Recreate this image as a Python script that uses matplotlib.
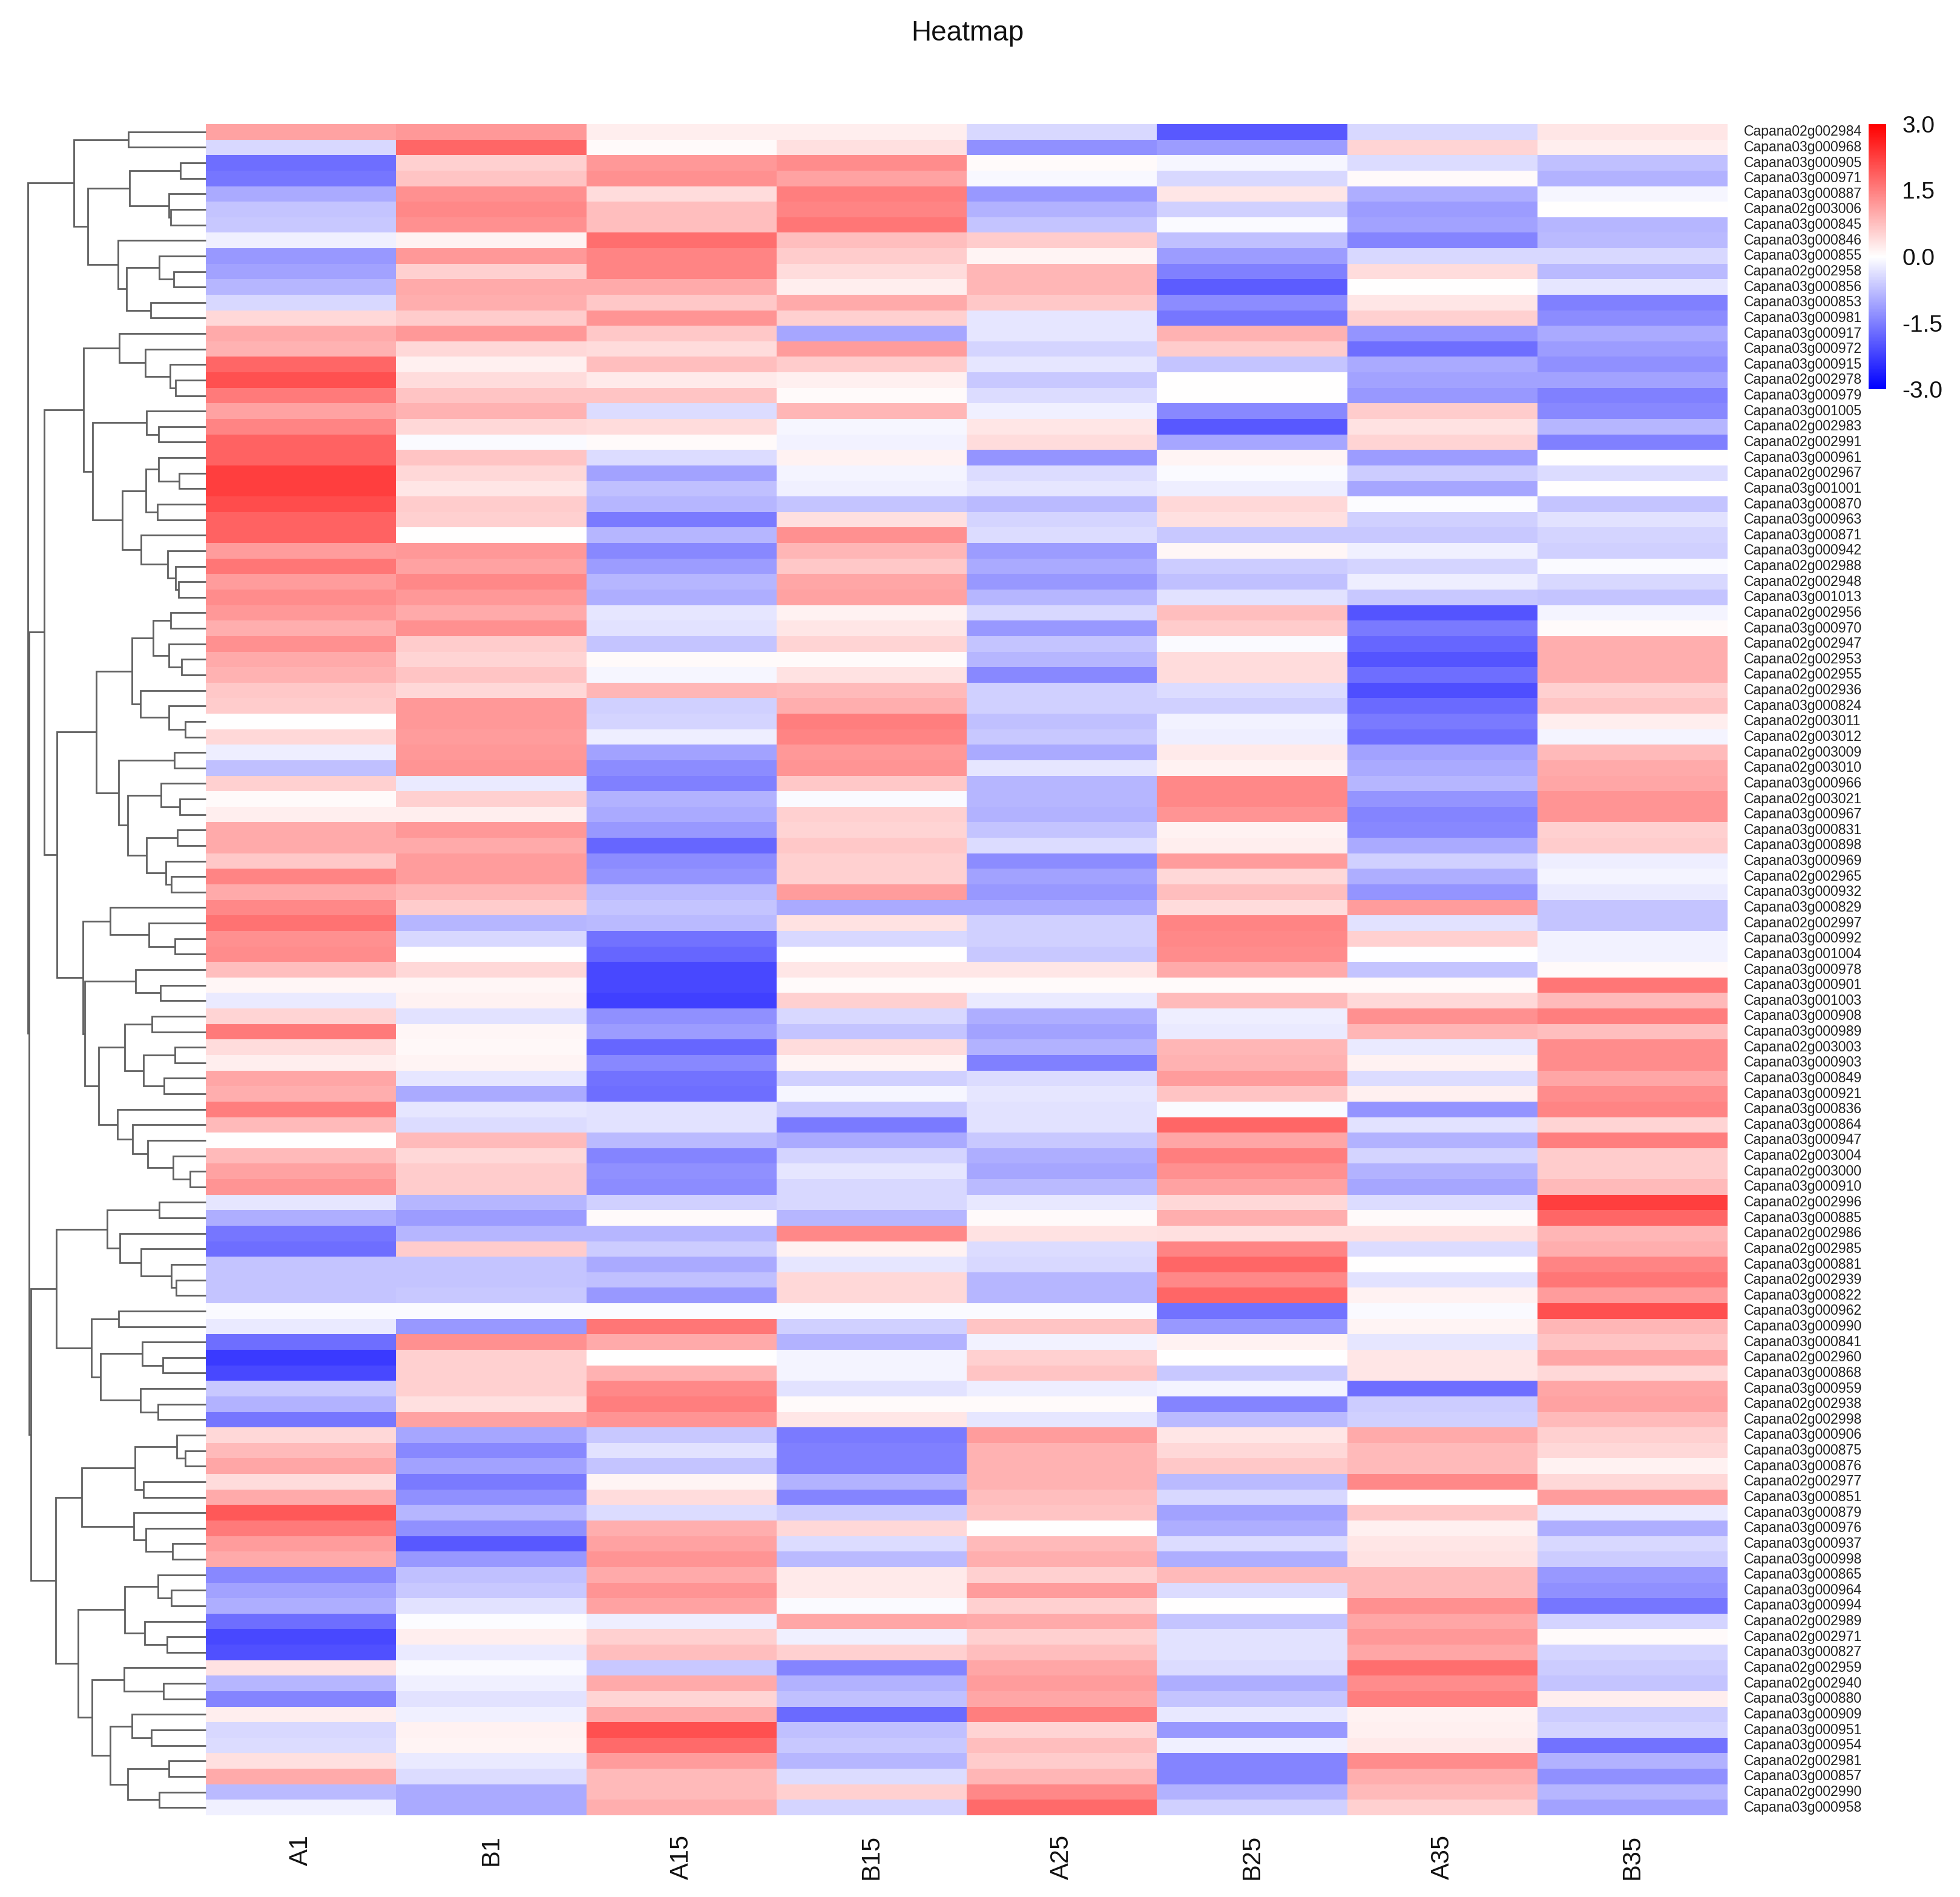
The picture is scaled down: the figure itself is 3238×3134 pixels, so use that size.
import matplotlib
matplotlib.use("Agg")
import matplotlib.pyplot as plt
import numpy as np

plt.rcParams['font.family'] = ['Liberation Sans', 'DejaVu Sans']

W_PX, H_PX = 3238, 3134

samples = ["A1", "B1", "A15", "B15", "A25", "B25", "A35", "B35"]

genes = """02g002984 03g000968 03g000905 03g000971 03g000887 02g003006 03g000845 03g000846 03g000855 02g002958
03g000856 03g000853 03g000981 03g000917 03g000972 03g000915 02g002978 03g000979 03g001005 02g002983
02g002991 03g000961 02g002967 03g001001 03g000870 03g000963 03g000871 03g000942 02g002988 02g002948
03g001013 02g002956 03g000970 02g002947 02g002953 02g002955 02g002936 03g000824 02g003011 02g003012
02g003009 02g003010 03g000966 02g003021 03g000967 03g000831 03g000898 03g000969 02g002965 03g000932
03g000829 02g002997 03g000992 03g001004 03g000978 03g000901 03g001003 03g000908 03g000989 02g003003
03g000903 03g000849 03g000921 03g000836 03g000864 03g000947 02g003004 02g003000 03g000910 02g002996
03g000885 02g002986 02g002985 03g000881 02g002939 03g000822 03g000962 03g000990 03g000841 02g002960
03g000868 03g000959 02g002938 02g002998 03g000906 03g000875 03g000876 02g002977 03g000851 03g000879
03g000976 03g000937 03g000998 03g000865 03g000964 03g000994 02g002989 02g002971 03g000827 02g002959
02g002940 03g000880 03g000909 03g000951 03g000954 02g002981 03g000857 02g002990 03g000958""".split()
gene_labels = ["Capana" + g for g in genes]

A1 = [1.1,-.45,-1.7,-1.6,-1.0,-.7,-.65,-.17,-1.2,-1.1,-.85,-.45,.45,1.0,.9,1.8,2.05,1.55,1.1,1.45,1.85,1.85,2.25,2.25,2.1,1.85,1.85,
      1.15,1.6,1.15,1.35,1.2,.95,1.3,1.0,.9,.65,.6,.02,.45,-.2,-.75,.55,.05,.2,1.0,1.0,.65,1.45,1.0,1.4,1.65,1.3,1.35,.75,
      .1,-.25,.5,1.55,.4,.2,1.05,.95,1.5,.8,0,.8,1.1,1.25,-.3,-.95,-1.6,-1.7,-.7,-.7,-.7,-.05,-.25,-1.7,-2.3,-2.15,-.65,-.9,-1.6,
      .45,.8,1.05,.4,1.0,1.95,1.55,1.15,1.0,-1.4,-1.1,-.95,-1.7,-2.15,-2.05,.35,-.85,-1.45,.2,-.45,-.4,.37,1.0,-.8,-.17]
B1 = [1.2,1.8,.55,.7,1.3,1.4,1.3,.15,1.2,.55,1.0,.95,.6,1.2,.45,.17,.4,.7,.9,.45,-.05,.7,.45,.3,.6,.55,0,
      1.2,1.1,1.4,1.2,1.0,1.3,.6,.5,.7,.45,1.2,1.2,1.15,1.2,1.25,-.25,.55,.2,1.2,1.0,1.15,1.15,.85,.6,-.85,-.45,0,.45,
      .1,.15,-.35,.1,.08,.12,-.3,-1.0,-.3,-.4,.8,.45,.6,.6,-.85,-1.15,-.85,.6,-.7,-.7,-.65,-.05,-1.2,1.3,.55,.55,.55,.37,1.1,
      -1.05,-1.4,-1.1,-1.55,-1.3,-.85,-1.3,-1.95,-1.2,-.75,-.65,-.35,-.03,.2,-.25,-.05,-.17,-.35,-.17,.15,.12,-.25,-.4,-1.0,-1.0]
A15 = [.2,.05,1.2,1.3,.4,.75,.75,1.7,1.45,1.45,1.0,.65,1.25,.65,.4,.75,.25,.7,-.4,.4,.05,-.4,-1.1,-.75,-.85,-1.55,-.85,
       -1.4,-1.15,-.85,-.95,-.3,-.35,-.7,.05,-.1,.85,-.55,-.5,-.2,-1.1,-1.35,-1.5,-.9,-1.0,-1.2,-1.8,-1.35,-1.25,-.8,-.7,-.8,-1.65,-1.8,-2.15,
       -2.15,-2.25,-1.3,-1.15,-1.8,-1.4,-1.65,-1.7,-.35,-.35,-.8,-1.45,-1.3,-1.35,-.55,.07,-.85,-.6,-1.0,-.75,-1.2,-.05,1.6,1.0,0,.9,1.4,1.5,1.25,
       -.65,-.35,-.7,.12,.4,-.4,.95,1.1,1.25,1.0,1.25,1.1,-.2,.55,.75,-.65,1.0,.5,1.0,2.05,1.75,1.15,.8,.8,.95]
B15 = [.2,.37,1.35,1.1,1.5,1.45,1.6,.75,.6,.4,.2,1.0,.55,-1.05,1.15,.6,.17,.05,.85,-.1,-.15,.15,-.12,-.17,-.7,.37,1.3,
       .85,.65,1.05,1.1,.15,.3,.5,.06,.35,.8,.95,1.5,1.45,1.2,1.25,.65,-.05,.55,.5,.65,.55,.55,1.15,-1.0,.35,-.45,0,.3,
       .05,.55,-.45,-.7,.4,.12,-.55,-.1,-.65,-1.55,-1.0,-.5,-.3,-.45,-.45,-.85,1.4,.15,-.3,.45,.45,-.05,-.55,-.9,-.13,-.13,-.35,.07,.3,
       -1.55,-1.5,-1.5,-.9,-1.45,-.6,.45,-.4,-.8,.25,.25,-.07,1.05,-.17,.55,-1.45,-.9,-.75,-1.75,-.75,-.65,-.85,-.4,.55,-.5]
A25 = [-.45,-1.3,.07,-.08,-1.2,-.9,-.7,.6,.13,.85,.85,.65,-.3,-.3,-.5,-.3,-.65,-.4,-.17,.3,.4,-1.25,-.4,-.3,-.8,-.5,-.4,
       -1.15,-1.0,-1.2,-.85,-.45,-1.2,-.7,-.85,-1.4,-.55,-.55,-.75,-.65,-1.0,-.3,-.85,-.85,-.9,-.7,-.4,-1.35,-1.1,-1.2,-1.0,-.55,-.55,-.65,.3,
       .05,-.25,-.95,-1.1,-.9,-1.5,-.4,-.3,-.35,-.35,-.65,-.95,-1.05,-.8,-.27,.07,.35,-.4,-.45,-.85,-.85,-.05,.7,-.15,.55,.7,-.2,.05,-.3,
       1.15,.9,.9,.9,.75,.7,0,.8,.95,.55,1.15,.55,1.0,.55,.75,1.05,1.15,1.05,1.5,.5,.75,.6,.85,1.4,1.75]
B25 = [-1.95,-1.15,-.1,-.45,.3,-.55,-.07,-.75,-1.15,-1.5,-1.9,-1.35,-1.6,.9,.6,-.7,0,0,-1.4,-1.95,-1.05,.12,-.05,-.2,.45,.37,-.65,
       .1,-.6,-.75,-.35,.75,.6,-.05,.4,.4,-.4,-.55,-.15,-.2,.25,.15,1.4,1.4,1.25,.15,.2,1.15,.45,.75,.4,1.45,1.4,1.35,1.0,
       .05,.8,-.2,-.25,.85,.9,1.15,.7,-.05,1.8,1.05,1.5,1.3,1.1,.45,.95,.37,1.45,1.8,1.4,1.8,-1.65,-1.2,.15,0,-.65,-.13,-1.45,-.8,
       .3,.45,.65,-.8,-.45,-1.1,-.95,-.4,-.95,.8,-.4,0,-.7,-.35,-.33,-.4,-.95,-.7,-.27,-1.2,-.17,-1.45,-1.45,-.9,-.55]
A35 = [-.45,.5,-.4,.05,-.95,-1.15,-1.1,-1.45,-.45,.4,0,.3,.55,-1.25,-1.7,-1.0,-1.1,-1.2,.6,.35,.5,-1.15,-.6,-1.05,-.03,-.55,-.65,
       -.17,-.5,-.2,-.65,-2.0,-1.55,-1.8,-2.0,-1.7,-2.08,-1.75,-1.55,-1.7,-1.1,-1.0,-.85,-1.25,-1.45,-1.4,-1.0,-.55,-.95,-1.25,1.15,-.35,.55,-.02,-.7,
       .05,.45,1.3,.85,-.25,.15,-.4,.17,-1.25,-.35,-.9,-.5,-.9,-1.05,-.4,.07,.37,-.4,0,-.33,.15,-.05,.12,-.3,.3,.3,-1.7,-.6,-.55,
       1.0,.8,.8,1.4,0,.65,.17,.3,.35,.8,.8,1.3,1.05,1.2,1.05,1.7,1.35,1.5,.15,.17,.25,1.35,.95,.8,.55]
B35 = [.3,.2,-.75,-.9,-.1,0,-.85,-.8,-.45,-.8,-.3,-1.5,-1.35,-1.0,-1.15,-1.3,-1.1,-1.5,-1.4,-.85,-1.5,0,-.4,0,-.7,-.35,-.5,
       -.55,-.07,-.45,-.7,-.12,.06,.95,.95,.95,.55,.7,.2,-.12,.8,1.0,1.05,1.25,1.25,.55,.6,-.2,-.13,-.25,-.7,-.7,-.15,-.15,.05,
       1.6,.8,1.5,.75,1.35,1.35,1.05,1.35,1.45,.5,1.5,.6,.6,.8,2.25,1.8,.85,.95,1.45,1.6,1.15,2.05,.85,.7,1.05,.45,1.05,1.1,.8,
       .55,.45,.15,.45,1.15,-.25,-.95,-.45,-.6,-1.2,-1.3,-1.6,-.5,.05,-.5,-.6,-.7,.2,-.6,-.5,-1.65,-.9,-1.3,-.85,-1.1]

colorbar_ticks = [3.0, 1.5, 0.0, -1.5, -3.0]

# Row dendrogram: (merge distance, upper branch, lower branch); integers are row numbers
A_ = (201, 1, 2)
B_ = (198, (66, 3, 4), (95, 5, (91, 6, 7)))
C_ = (227, 8, (205, (120, 9, (83, 10, 11)), (143, 12, 13)))
T_ = (341, A_, (305, B_, C_))
D_ = (224, 14, (156, 15, (93, 16, (78, 17, 18))))
E_ = (154, 19, (122, 20, 21))
F_ = (155, (123, 22, (69, 23, 24)), (125, 25, 26))
G_ = (168, 27, (99, 28, (79, 29, (70, 30, 31))))
H_ = (317, D_, (293, E_, (217, F_, G_)))
I_ = (191, (137, (91, 32, 33), (96, 34, (63, 35, 36))), (169, 37, (95, 38, (53, 39, 40))))
J_ = (225, (81, 41, 42), (202, (116, 43, (68, 44, 45)), (154, (73, 46, 47), (104, 48, (89, 49, 50)))))
K_ = (248, 51, (148, 52, (80, 53, 54)))
L_ = (182, 55, (118, 56, 57))
M_ = (210, (139, 58, 59), (162, (80, 60, 61), (108, 62, 63)))
N_ = (229, 64, (190, 65, (151, 66, (84, 67, (40, 68, 69)))))
Z_ = (386, (284, I_, J_), (318, K_, (314, L_, (277, M_, N_))))
X_ = (418, H_, Z_)
W1 = (387, (255, (120, 70, 71), (223, 72, (167, 73, (89, 74, (77, 75, 76))))),
      (296, (226, 77, 78), (273, (165, 79, (111, 80, 81)), (170, 82, (124, 83, 84)))))
S_ = (321, (184, (75, 85, (54, 86, 87)), (162, 88, 89)), (186, 90, (155, 91, (87, 92, 93))))
U_ = (210, (124, 94, (89, 95, 96)), (158, 97, (101, 98, 99)))
V_ = (295, (211, 100, (110, 101, 102)),
      (247, (191, 103, (141, 104, 105)), (202, (96, 106, 107), (120, 108, 109))))
W2 = (389, S_, (331, U_, V_))
tree = (461, T_, (458, X_, (453, W1, W2)))
tree_max_distance = 533

matrix = np.array([A1, B1, A15, B15, A25, B25, A35, B35], dtype=float).T
n_rows, n_cols = matrix.shape
assert n_rows == len(gene_labels)


def px_axes(fig, x0, y0, x1, y1):
    return fig.add_axes([x0 / W_PX, 1 - y1 / H_PX, (x1 - x0) / W_PX, (y1 - y0) / H_PX])


fig = plt.figure(figsize=(W_PX / 100, H_PX / 100), dpi=100, facecolor="white")

# Heatmap
ax = px_axes(fig, 340, 205, 2854, 2999)
mesh = ax.pcolormesh(np.arange(n_cols + 1), np.arange(n_rows + 1), matrix,
                     cmap="bwr", vmin=-3, vmax=3, linewidth=0, antialiased=False)
ax.set_xlim(0, n_cols)
ax.set_ylim(n_rows, 0)
for s in ax.spines.values():
    s.set_visible(False)
ax.set_xticks(np.arange(n_cols) + 0.5)
ax.set_xticklabels(samples, rotation=90, fontsize=30, va="top", ha="center", color="#111111")
ax.yaxis.tick_right()
ax.set_yticks(np.arange(n_rows) + 0.5)
ax.set_yticklabels(gene_labels, fontsize=16.6, va="center", ha="left", color="#222222")
ax.tick_params(axis="x", length=0, pad=23)
ax.tick_params(axis="y", length=0, pad=19)

# Dendrogram
dax = px_axes(fig, 0, 205, 340, 2999)
dax.set_xlim(tree_max_distance, 0)
dax.set_ylim(n_rows, 0)
dax.axis("off")


def draw(node):
    if isinstance(node, int):
        return 0.0, node - 0.5
    d, a, b = node
    da, ya = draw(a)
    db, yb = draw(b)
    dax.plot([da, d, d, db], [ya, ya, yb, yb], color="#606060", lw=2.0,
             solid_joinstyle="miter", solid_capstyle="butt", clip_on=False)
    return d, (ya + yb) / 2


draw(tree)

# Colour bar
cax = px_axes(fig, 3087, 205, 3116, 643)
cb = fig.colorbar(mesh, cax=cax, ticks=colorbar_ticks)
cb.outline.set_visible(False)
cb.ax.set_yticklabels([f"{t:.1f}" for t in colorbar_ticks], fontsize=28, color="#111111")
cb.ax.tick_params(length=0, pad=19)

fig.text(1598 / W_PX, 1 - 67 / H_PX, "Heatmap", fontsize=33, ha="center", va="baseline", color="#111111")

fig.savefig("out.png", dpi=100, facecolor="white")
